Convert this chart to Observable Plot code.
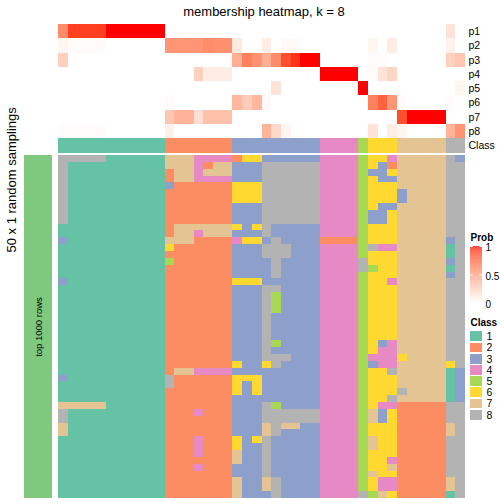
<!DOCTYPE html>
<html><head><meta charset="utf-8">
<script src="https://cdn.jsdelivr.net/npm/d3@7"></script>
<script src="https://cdn.jsdelivr.net/npm/@observablehq/plot@0.6"></script>
<style>
body{margin:0;background:#fff;}
#chart{position:relative;width:504px;height:504px;font-family:"Liberation Sans",Arial,sans-serif;}
#chart svg{position:absolute;overflow:visible;}
</style></head><body><div id="chart"></div><script>
const titleText = "membership heatmap, k = 8";
const probRows = ["p1","p2","p3","p4","p5","p6","p7","p8"];
const classLabels = ["1","2","3","4","5","6","7","8"];
const classColors = ["#66C2A5","#FC8D62","#8DA0CB","#E78AC3","#A6D854","#FFD92F","#E5C494","#B3B3B3"];
const probTicks = [0, 0.5, 1];
const columnClass = "11111111111 2222222 333333333 4444 5 666 77777 88";

const p1 = [0.6,0.9,0.9,0.9,0.9,1,1,1,1,1,1, 0,0,0,0,0,0,0, 0,0,0,0,0,0,0,0,0, 0,0,0,0, 0, 0,0,0, 0,0,0,0,0, 0.15,0];
const p2 = [0.05,0.02,0.02,0.02,0.02,0,0,0,0,0,0, 0.55,0.55,0.55,0.55,0.6,0.57,0.57, 0.12,0,0,0.1,0,0.03,0.03,0,0, 0,0,0,0, 0, 0.05,0,0.1, 0,0,0,0,0, 0.07,0];
const p3 = [0.25,0,0,0,0,0,0,0,0,0,0, 0,0,0,0,0,0,0, 0.42,0.65,0.57,0.42,0.6,0.85,0.93,1,1, 0,0,0,0, 0, 0.02,0.02,0, 0,0,0,0,0, 0.25,0.3];
const p4 = [0,0,0,0,0,0,0,0,0,0,0, 0,0,0,0.25,0.1,0.1,0.1, 0,0,0,0,0,0,0,0,0, 1,1,1,1, 0, 0.02,0.15,0.22, 0,0,0,0,0, 0,0];
const p5 = [0,0,0,0,0,0,0,0,0,0,0, 0,0,0,0,0,0,0, 0,0,0,0,0.15,0,0,0,0, 0,0,0,0, 1, 0,0,0, 0,0,0,0,0, 0,0.05];
const p6 = [0,0,0,0,0,0,0,0,0,0,0, 0.02,0,0,0,0,0,0, 0.38,0.28,0.38,0.03,0,0,0,0,0, 0,0,0,0, 0, 0.65,0.78,0.55, 0.02,0,0,0,0, 0.02,0];
const p7 = [0,0,0,0,0,0,0,0,0,0,0, 0.3,0.4,0.4,0.17,0.33,0.33,0.33, 0,0,0,0,0,0,0,0,0, 0,0,0,0, 0, 0,0,0, 0.85,1,1,1,1, 0,0];
const p8 = [0.02,0.02,0.02,0.02,0.02,0,0,0,0,0,0, 0.08,0,0,0,0,0,0, 0,0,0,0.4,0.2,0.05,0,0,0, 0,0,0,0, 0, 0.15,0,0.1, 0.05,0,0,0,0, 0.4,0.55];
const probValues = [p1,p2,p3,p4,p5,p6,p7,p8];

const samplings = [
"88888111111 7774444 266333333 4444 5 664 77777 83",
"81111111111 7774277 333888888 4444 5 632 77777 88",
"81111111111 2774777 333888888 4444 5 336 77777 88",
"81111111111 2774444 333888888 4444 5 633 77777 88",
"81111111111 3222222 666888888 4444 5 666 77777 88",
"81111111111 2222222 666888888 4444 5 666 37777 88",
"81111111111 2222222 666888888 4444 5 666 37777 88",
"81111111111 2222222 333888888 4444 5 633 77777 88",
"81111111111 2222222 333888888 4444 5 336 77777 88",
"81111111111 2222222 333888888 4444 5 336 77777 88",
"11111111111 2777777 636833333 4444 5 666 77777 88",
"11111111111 2774777 333833333 4444 5 666 77777 88",
"31111111111 7772222 466383333 2222 5 666 77777 38",
"11111111111 6222222 333888333 4444 5 844 77777 18",
"11111111111 2222222 333888333 4444 5 666 77777 18",
"11111111111 5222222 333383333 4444 8 666 77777 38",
"11111111111 2222222 333383333 4444 8 566 77777 18",
"11111111111 2222222 333383333 4444 5 666 77777 38",
"31111111111 2222222 666333333 4444 5 664 77777 88",
"11111111111 2222222 333883333 4444 5 666 77777 88",
"11111111111 2222222 333853333 4444 5 666 77777 88",
"11111111111 2222222 333853333 4444 5 666 77777 88",
"11111111111 2222222 333853333 4444 5 666 77777 88",
"11111111111 2222222 333833333 4444 5 666 77777 88",
"11111111111 2222222 333833333 4444 5 666 77777 88",
"11111111111 2222222 333833333 4444 5 666 77777 88",
"11111111111 2222222 333833333 4444 5 666 77777 88",
"11111111111 2222222 333853333 4444 5 634 77777 88",
"11111111111 2222222 333833333 4444 5 644 77777 88",
"11111111111 2222222 333888333 4444 5 444 67777 88",
"11111111111 2222222 633683333 4444 5 344 77777 68",
"11111111111 2774444 333333333 4444 5 668 77777 13",
"31111111111 8222222 666333333 4444 5 666 77777 13",
"11111111111 8222222 636333333 4444 5 666 77777 13",
"11111111111 2222222 636333333 4444 5 666 87777 13",
"11111111111 2222222 333333333 4444 5 668 77777 13",
"77777111111 2222222 333853333 4444 5 644 22222 88",
"81111111111 2224222 333888888 4444 5 736 22222 88",
"81111111111 2222222 333888888 4444 5 736 22222 88",
"71111111111 2222222 333787733 4444 5 666 22222 78",
"71111111111 2222222 333783333 4444 5 666 22222 78",
"11111111111 2224222 636833333 4444 5 766 22222 88",
"11111111111 2224222 633833333 4444 5 766 22222 88",
"11111111111 2224222 733833333 4444 5 666 22222 88",
"11111111111 2222222 733833333 4444 5 664 22222 88",
"11111111111 2224222 333833333 4444 5 667 22222 88",
"11111111111 2222222 333833333 4444 5 766 22222 88",
"11111111111 2222222 733783333 4444 5 644 22222 78",
"11111111111 2222222 733783333 4444 5 644 22222 78",
"11111111111 2222222 733383333 4444 8 576 22222 18"
];
const sideLabel = "top 1000 rows";
const rowsLabel = "50 x 1 random samplings";

const FONT = "Liberation Sans, Arial, Helvetica, sans-serif";
const chart = document.getElementById("chart");
const nCols = columnClass.replace(/ /g,"").length;
const columns = d3.range(nCols);
const probColor = {type:"linear", domain:[0,1], range:["#FFFFFF","#FF0000"], interpolate:"lab"};
const classColor = {type:"ordinal", domain:classLabels, range:classColors};
const baseStyle = {fontFamily:FONT, fontSize:"10.5px", background:"none", color:"black"};
const xBand = {type:"band", domain:columns, padding:0, round:false, axis:null};
const crisp = {inset:0, shapeRendering:"crispEdges"};

function place(svg, left, top){
  svg.style.left = left + "px"; svg.style.top = top + "px";
  chart.appendChild(svg);
}

// top membership panel
const probData = probRows.flatMap((r,ri)=>probValues[ri].map((v,c)=>({row:r,col:c,v})));
place(Plot.plot({
  width:504, height:138, marginLeft:58, marginRight:39, marginTop:24, marginBottom:0,
  style:baseStyle,
  x:xBand,
  y:{type:"band", domain:probRows, padding:0, round:false, axis:"right", tickSize:0, tickPadding:3, label:null},
  color:probColor,
  marks:[
    Plot.cell(probData,{x:"col", y:"row", fill:"v", ...crisp}),
    Plot.text([titleText],{frameAnchor:"top", lineAnchor:"middle", dy:-12.5, dx:2, fontSize:13})
  ]
}), 0, 0);

// class row
const classRow = columnClass.replace(/ /g,"").split("").map((c,i)=>({col:i, row:"Class", cls:c}));
place(Plot.plot({
  width:504, height:15, marginLeft:58, marginRight:39, marginTop:0, marginBottom:0,
  style:baseStyle,
  x:xBand,
  y:{type:"band", domain:["Class"], padding:0, round:false, axis:"right", tickSize:0, tickPadding:3, label:null},
  color:classColor,
  marks:[Plot.cell(classRow,{x:"col", y:"row", fill:"cls", ...crisp})]
}), 0, 138);

// main sampling heatmap
const mainData = samplings.flatMap((s,r)=>s.replace(/ /g,"").split("").map((c,col)=>({r, col, cls:c})));
place(Plot.plot({
  width:504, height:343, marginLeft:58, marginRight:39, marginTop:0, marginBottom:0,
  style:baseStyle,
  x:xBand,
  y:{type:"band", domain:d3.range(samplings.length), padding:0, round:false, axis:null},
  color:classColor,
  marks:[Plot.cell(mainData,{x:"col", y:"r", fill:"cls", ...crisp})]
}), 0, 155);

// left annotation bar and labels
place(Plot.plot({
  width:58, height:504, marginLeft:24, marginRight:6, marginTop:155, marginBottom:6,
  style:baseStyle,
  x:{type:"band", domain:[sideLabel], padding:0, round:false, axis:null},
  y:{type:"band", domain:[sideLabel], padding:0, round:false, axis:null},
  marks:[
    Plot.cell([sideLabel],{x:d=>d, y:d=>d, fill:"#7FC97F", ...crisp}),
    Plot.text([sideLabel],{x:d=>d, y:d=>d, text:d=>d, rotate:-90, fontSize:9.5, fill:"black"}),
    Plot.text([rowsLabel],{frameAnchor:"left", lineAnchor:"middle", dx:-12.5, dy:-74.5, rotate:-90, fontSize:13, fill:"black"})
  ]
}), 0, 0);

// Prob legend
const stops = d3.range(0,100).map(i=>i/100);
place(Plot.plot({
  width:36, height:76, marginLeft:2, marginRight:22, marginTop:17, marginBottom:2,
  style:baseStyle,
  x:{domain:[0,1], axis:null},
  y:{domain:[0,1], axis:null},
  color:probColor,
  marks:[
    Plot.rect(stops,{x1:0, x2:1, y1:d=>d, y2:d=>d+0.0101, fill:d=>d+0.005}),
    Plot.ruleY(probTicks,{x1:0, x2:0.22, stroke:"white", strokeWidth:1}),
    Plot.ruleY(probTicks,{x1:0.78, x2:1, stroke:"white", strokeWidth:1}),
    Plot.axisY(probTicks,{anchor:"right", tickSize:0, tickPadding:3, dy:1.5, fontSize:10, tickFormat:d=>String(d), label:null}),
    Plot.text(["Prob"],{frameAnchor:"top-left", lineAnchor:"middle", dy:-9, textAnchor:"start", fontWeight:"bold", fontSize:10})
  ]
}), 468, 229);

// Class legend
place(Plot.plot({
  width:36, height:110, marginLeft:2, marginRight:22, marginTop:18, marginBottom:1,
  style:baseStyle,
  x:{type:"band", domain:["k"], padding:0, round:false, axis:null},
  y:{type:"band", domain:classLabels, padding:0.12, round:false, axis:null},
  color:classColor,
  marks:[
    Plot.cell(classLabels,{x:()=>"k", y:d=>d, fill:d=>d, ...crisp}),
    Plot.axisY({anchor:"right", tickSize:0, tickPadding:4, fontSize:10.5, label:null}),
    Plot.text(["Class"],{frameAnchor:"top-left", lineAnchor:"middle", dy:-8, textAnchor:"start", fontWeight:"bold", fontSize:10})
  ]
}), 468, 312);
</script></body></html>
